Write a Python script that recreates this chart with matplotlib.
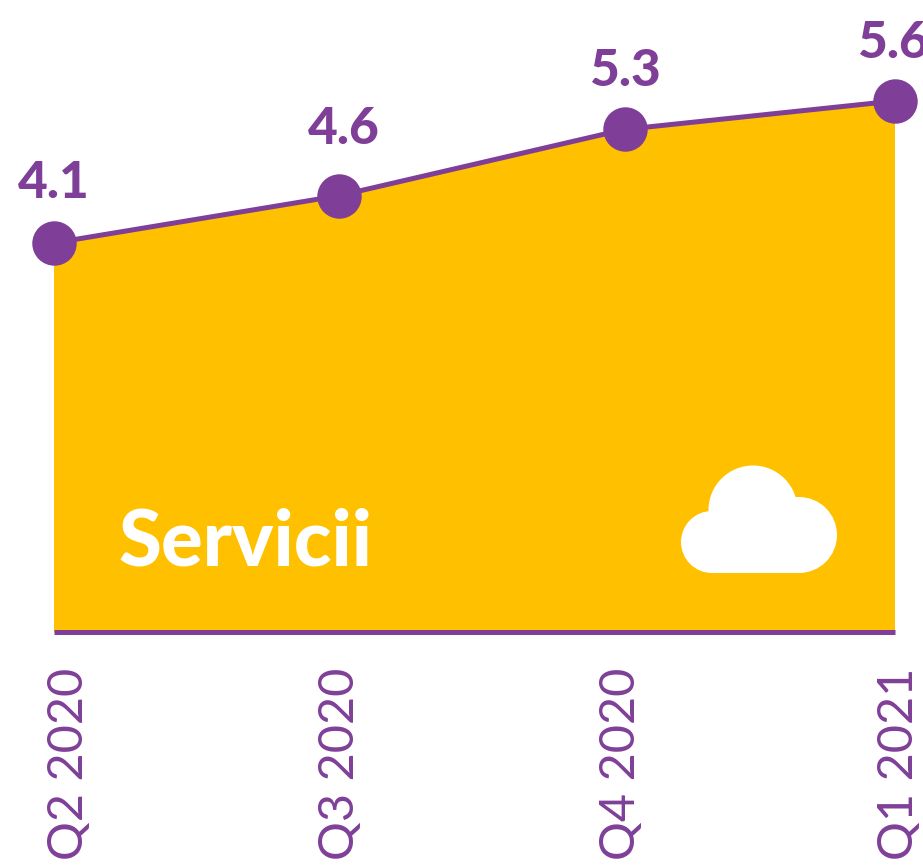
import matplotlib
matplotlib.use("Agg")
import matplotlib.pyplot as plt
from matplotlib.patches import Circle, Rectangle

# data
quarters = ["Q2 2020", "Q3 2020", "Q4 2020", "Q1 2021"]
values = [4.1, 4.6, 5.3, 5.6]
panel_title = "Servicii"

# layout: the last quarter sits a little closer than the others
x_slots = [0, 1, 2, 2.945]
value_dx = [0, 5, 0, -2]
value_dy = [45, 52, 43, 43]
label_dx = [15, 1, -4, 4]

PURPLE = "#7F3F98"
AMBER = "#FFC000"
W, H = 923, 866
PX = 72 / 100  # points per pixel at dpi 100

plt.rcParams["font.family"] = ["Lato", "DejaVu Sans"]

fig = plt.figure(figsize=(W / 100, H / 100), dpi=100)

left, right = 53.5, 894.5
base_y = 632
ax = fig.add_axes([left / W, 1 - base_y / H, (right - left) / W, base_y / H])
ax.set_xlim(0, x_slots[-1])
# 4.1 -> y=243, 5.6 -> y=101
per_unit = (243 - 101) / 1.5
y0 = 4.1 - (base_y - 243) / per_unit
ax.set_ylim(y0, y0 + base_y / per_unit)
ax.axis("off")

ax.fill_between(x_slots, values, y0, color=AMBER, lw=0, zorder=1)
ax.plot(x_slots, values, color=PURPLE, lw=3.6, clip_on=False, zorder=3)
ax.plot(x_slots, values, "o", color=PURPLE, ms=32, mew=0, clip_on=False, zorder=4)
ax.plot([0, x_slots[-1]], [y0, y0], color=PURPLE, lw=3.6, clip_on=False, zorder=3,
        solid_capstyle="butt")

for i, (xi, v) in enumerate(zip(x_slots, values)):
    ax.annotate(f"{v:.1f}", (xi, v), xytext=(value_dx[i] * PX, value_dy[i] * PX),
                textcoords="offset points", ha="center", va="baseline", color=PURPLE,
                fontsize=37, fontweight=900, annotation_clip=False, zorder=5)
    ax.annotate(quarters[i], (xi, y0), xytext=(label_dx[i] * PX, -36 * PX),
                textcoords="offset points", ha="center", va="top", rotation=90,
                color=PURPLE, fontsize=35, annotation_clip=False)

fig.text(118 / W, 1 - 566 / H, panel_title, color="white", fontsize=56, fontweight=900,
         ha="left", va="baseline")

# cloud icon in pixel coordinates
overlay = fig.add_axes([0, 0, 1, 1], facecolor="none")
overlay.set_xlim(0, W)
overlay.set_ylim(H, 0)
overlay.axis("off")
overlay.add_patch(Circle((712, 542), 31, fc="white", ec="none"))
overlay.add_patch(Circle((753, 510), 44.5, fc="white", ec="none"))
overlay.add_patch(Circle((799, 535), 38, fc="white", ec="none"))
overlay.add_patch(Rectangle((712, 525), 87, 48, fc="white", ec="none"))

fig.savefig("out.png", dpi=100, facecolor="white")
